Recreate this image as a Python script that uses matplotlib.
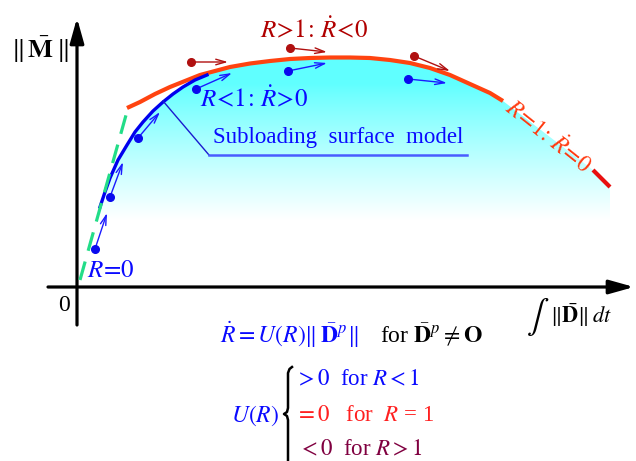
import numpy as np
import matplotlib.pyplot as plt
from matplotlib.patches import Polygon

plt.rcParams['font.family'] = ['Liberation Serif', 'DejaVu Serif']
plt.rcParams['mathtext.fontset'] = 'stix'

# stress-strain like curves, drawn in pixel-style coordinates (y grows downward)
red_x = [127, 140, 155, 170, 185, 200, 215, 230, 250, 270, 290, 310, 330,
         350, 370, 390, 410, 430, 450, 470, 490, 503]
red_y = [108, 102, 94, 87, 81, 75, 71, 67, 63.5, 61, 59, 58, 57.5,
         57.5, 58, 60, 63, 68, 75, 84, 93, 101]
red_tail_x = [593, 610]
red_tail_y = [170, 187]

blue_x = [100, 105, 110, 118, 127, 135, 143, 153, 163, 173, 183, 195, 207]
blue_y = [207, 192, 178, 160, 145, 132, 122, 111, 102, 94, 87, 80, 75]

elastic_x = [80, 128]
elastic_y = [280, 108]

# state points and their rate directions
blue_pts = [(95, 249), (110, 197), (138, 138), (196, 89), (288, 71), (408, 79)]
blue_dirs = [(107, 213), (123, 162), (160, 112), (232, 73), (327, 63), (447, 83)]
red_pts = [(191, 62), (290, 48), (414, 56)]
red_dirs = [(228, 62), (327, 52), (450, 71)]

fig = plt.figure(figsize=(6.36, 4.61), dpi=100)
ax = fig.add_axes([0, 0, 1, 1])

# cyan shading under the normal-yield surface, fading downwards
ys = np.linspace(50, 240, 200)
t = np.clip((ys - 85) / (220 - 85), 0, 1)
cyan = np.array([0.38, 1.0, 1.0])
grad = cyan[None, :] + (1 - cyan[None, :]) * t[:, None] ** 0.9
img = ax.imshow(grad[:, None, :], extent=(90, 620, 240, 50), aspect='auto',
                interpolation='bilinear', zorder=0)
fill_pts = list(zip(blue_x, blue_y)) + \
    [(x, y) for x, y in zip(red_x, red_y) if x > 207] + \
    list(zip(red_tail_x, red_tail_y)) + [(610, 240), (100, 240)]
clip = Polygon(fill_pts, closed=True, transform=ax.transData, fc='none', ec='none')
ax.add_patch(clip)
img.set_clip_path(clip)

# axes
ax.annotate('', xy=(77, 18), xytext=(77, 325),
            arrowprops=dict(arrowstyle='-|>,head_length=1.5,head_width=0.42',
                            lw=2.3, color='black', shrinkA=0, shrinkB=0))
ax.annotate('', xy=(634, 287), xytext=(48, 287),
            arrowprops=dict(arrowstyle='-|>,head_length=1.5,head_width=0.42',
                            lw=2.3, color='black', shrinkA=0, shrinkB=0))

# curves
ax.plot(red_x, red_y, color='#ff4310', lw=3, solid_capstyle='butt', zorder=3)
ax.plot(red_tail_x, red_tail_y, color='#e81010', lw=3, solid_capstyle='butt', zorder=3)
ax.plot(blue_x, blue_y, color='#0000ee', lw=2.4, zorder=3)
ax.plot(elastic_x, elastic_y, color='#22dd88', lw=2.3, dashes=(6, 3.5), zorder=4)

# rate arrows
for (x0, y0), (x1, y1) in zip(blue_pts, blue_dirs):
    ax.annotate('', xy=(x1, y1), xytext=(x0, y0),
                arrowprops=dict(arrowstyle='->,head_length=0.7,head_width=0.2',
                                lw=1.0, color='#1a1aff', shrinkA=0, shrinkB=0), zorder=5)
    ax.plot(x0, y0, 'o', color='#0a0aee', ms=5.5, zorder=6)
for (x0, y0), (x1, y1) in zip(red_pts, red_dirs):
    ax.annotate('', xy=(x1, y1), xytext=(x0, y0),
                arrowprops=dict(arrowstyle='->,head_length=0.7,head_width=0.2',
                                lw=1.0, color='#b01010', shrinkA=0, shrinkB=0), zorder=5)
    ax.plot(x0, y0, 'o', color='#b01010', ms=5.5, zorder=6)

# leader line for the subloading surface
ax.plot([163, 209], [101, 155], color='#1a1ad0', lw=1.0, zorder=4)
ax.plot([209, 467], [155, 155], color='#4a5cff', lw=1.8, zorder=4)

blue = '#0a0aff'
ax.text(338, 137, 'Subloading  surface  model', color=blue, fontsize=16.5,
        ha='center', va='center')
ax.text(314, 30, r'$R\!>\!1\!:\,\dot{R}\!<\!0$', color='#b00000', fontsize=18,
        ha='center', va='center')
ax.text(254, 99, r'$R\!<\!1\!:\,\dot{R}\!>\!0$', color=blue, fontsize=18,
        ha='center', va='center')
ax.text(111, 271, r'$R\!=\!0$', color=blue, fontsize=18, ha='center', va='center')
ax.text(548, 136, r'$R\!=\!1\!:\,\dot{R}\!=\!0$', color='#ff3a10', fontsize=17,
        ha='center', va='center', rotation=-38.5, rotation_mode='anchor')

ax.text(40, 50, r'$\|\,\bar{\mathbf{M}}\,\|$', fontsize=19, ha='center', va='center')
ax.text(64, 305, '0', fontsize=17, ha='center', va='center')
ax.text(538, 316, r'$\int$', fontsize=24, ha='center', va='center')
ax.text(550, 315, r'$\|\bar{\mathbf{D}}\|\,dt$', fontsize=16, ha='left', va='center')

# evolution rule
ax.text(220, 335, r'$\dot{R}=U(R)\|\,\bar{\mathbf{D}}^p\|$', color=blue, fontsize=17,
        ha='left', va='center')
ax.text(380, 335, r'for $\bar{\mathbf{D}}^p\neq\mathbf{O}$', color='black', fontsize=17,
        ha='left', va='center')
ax.text(279, 416, r'$U(R)$', color=blue, fontsize=17, ha='right', va='center')
ax.text(295, 380, r'$>0$  for $R<1$', color=blue, fontsize=16.5, ha='left', va='center')
ax.text(295, 415, r'$=0$   for  $R$ = 1', color='#ff2020', fontsize=16.5,
        ha='left', va='center')
ax.text(298, 450, r'$<0$  for $R>1$', color='#800040', fontsize=16.5,
        ha='left', va='center')

# brace
brace_x = [292, 289.5, 288, 288, 287, 284, 287, 288, 288]
brace_y = [367, 369, 373, 408, 412, 414, 416, 420, 461]
ax.plot(brace_x, brace_y, color='black', lw=1.8, solid_joinstyle='round')

ax.set_xlim(0, 636)
ax.set_ylim(461, 0)
ax.axis('off')
fig.savefig('out.png', dpi=100)
